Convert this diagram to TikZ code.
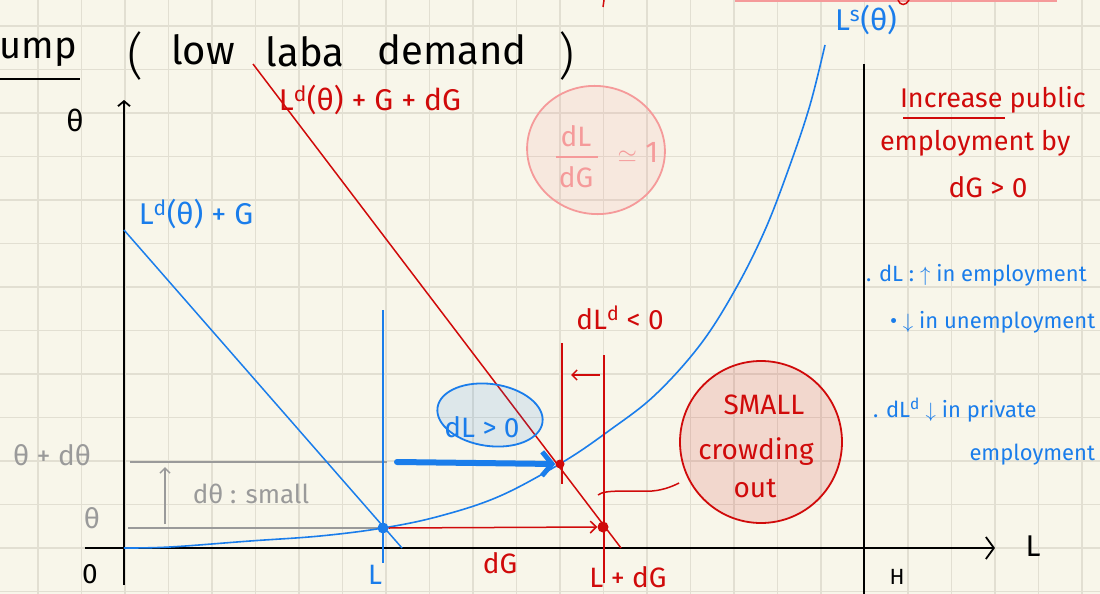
\documentclass[tikz,border=0pt]{standalone}
\usepackage{fontspec}
\setmainfont{Fira Sans}
\usetikzlibrary{arrows.meta}
\definecolor{bg}{HTML}{F8F6EA}
\definecolor{gridc}{HTML}{E2DFD2}
\definecolor{pblue}{HTML}{1A7DEB}
\definecolor{pred}{HTML}{D00A0A}
\definecolor{ppink}{HTML}{F59A9A}
\definecolor{pgray}{HTML}{9A9A9A}
\newcommand\hsz[1]{\fontsize{#1}{#1}\selectfont}
\tikzset{
  gridline/.style={gridc, line width=1.3pt},
  ink/.style={black, line width=1.8pt},
  bluel/.style={pblue, line width=1.5pt},
  redl/.style={pred, line width=1.5pt},
  grayl/.style={pgray, line width=2pt},
  txt/.style={inner sep=0pt, outer sep=0pt},
  dotc/.style={circle, inner sep=0pt, minimum size=11pt},
}
\begin{document}
\begin{tikzpicture}[x=1pt,y=-1pt]
\fill[bg] (0,0) rectangle (1100,594);
\useasboundingbox (0,0) rectangle (1100,594);
% grid
\foreach \k in {0,...,24} \draw[gridline] ({38+43.5*\k},0) -- ({38+43.5*\k},594);
\foreach \k in {-1,...,12} \draw[gridline] (0,{548-43.5*\k}) -- (1100,{548-43.5*\k});

% top cut-off marks
\draw[ppink, line width=2pt] (735,1) -- (1057,1);
\draw[pred, line width=1.5pt] (604,0) -- (603,7);
\draw[pred, line width=1.5pt] (898,0) .. controls (900,6) and (906,6) .. (909,0);

% title
\node[txt, font=\hsz{38}] (tump) at (38,52) {ump};
\draw[ink] (0,79) -- (80,79);
\node[txt, font=\hsz{50}\fontspec{Fira Sans Light}] (lpar) at (136,56) {(};
\node[txt, font=\hsz{40}] (tlow) at (203,50) {low};
\node[txt, font=\hsz{40}] (tlaba) at (305,52) {laba};
\node[txt, font=\hsz{40}] (tdem) at (452,50) {demand};
\node[txt, font=\hsz{50}\fontspec{Fira Sans Light}] (rpar) at (567,56) {)};

% coordinates
\coordinate (ytop) at (124,100);
\coordinate (ybot) at (124,585);
\coordinate (xleft) at (85,548);
\coordinate (xright) at (995,548);
\coordinate (Htop) at (864,64);
\coordinate (Hbot) at (864,594);
\coordinate (bd1) at (124,230);
\coordinate (bd2) at (402,548);
\coordinate (rd1) at (253,64);
\coordinate (rd2) at (621,548);
\coordinate (Lt) at (383,310);
\coordinate (Lb) at (383,563);
\coordinate (LGt) at (604,355);
\coordinate (LGb) at (604,583);
\coordinate (Dt) at (562,343);
\coordinate (Db) at (562,484);

% pink ellipse
\draw[ppink, line width=1.8pt, fill=ppink, fill opacity=0.15, rotate around={-8:(596,150)}] (596,150) ellipse [x radius=69pt, y radius=64pt];
\node[txt, ppink, font=\hsz{28}] (fdl) at (576,136) {dL};
\node[txt, ppink, font=\hsz{28}] (fdg) at (576,177) {dG};
\draw[ppink, line width=1.8pt] (556,157) -- (598,157);
\node[txt, ppink, font=\hsz{30}] (fap) at (638,152) {$\simeq$\;1};

% axes
\draw[ink, -{Straight Barb[length=5pt,width=12pt]}] (ybot) -- (ytop);
\draw[ink, -{Straight Barb[length=8pt,width=22pt]}] (xleft) -- (xright);
\draw[ink] (Htop) -- (Hbot);
\node[txt, font=\hsz{30}] (ylab) at (75,120) {θ};
\node[txt, font=\hsz{30}] (xlab) at (1033,546) {L};
\node[txt, font=\hsz{28}] (zero) at (90,574) {0};
\node[txt, font=\hsz{22}] (Hlab) at (897,577) {H};

% gray guides
\draw[grayl] (128,528) -- (383,528);
\draw[grayl] (130,462) -- (387,462);
\draw[pgray, line width=1.5pt, -{Straight Barb[length=5pt,width=10pt]}] (165,524) -- (165,467);
\node[txt, pgray, font=\hsz{28}] (tth) at (92,518) {θ};
\node[txt, pgray, font=\hsz{28}] (tthd) at (52,455) {θ + dθ};
\node[txt, pgray, font=\hsz{26}] (tsmall) at (251,494) {dθ : small};

% demand curves
\draw[bluel] (bd1) -- (bd2);
\node[txt, pblue, font=\hsz{30}] (bdlab) at (196,214) {L\textsuperscript{d}(θ) + G};
\draw[redl] (rd1) -- (rd2);
\node[txt, pred, font=\hsz{30}] (rdlab) at (370,100) {L\textsuperscript{d}(θ) + G + dG};

% supply curve
\draw[pblue, line width=1.6pt] plot[smooth, tension=0.6] coordinates {(124,548) (170,547) (250,541) (320,536) (383,528) (440,516) (500,496) (563,462) (610,430) (655,395) (700,345) (735,290) (765,230) (790,165) (810,105) (825,45)};
\node[txt, pblue, font=\hsz{30}] (lslab) at (866,20) {L\textsuperscript{s}(θ)};

% verticals
\draw[bluel] (Lt) -- (Lb);
\node[txt, pblue, font=\hsz{28}] (Llab) at (375,575) {L};
\draw[redl] (LGt) -- (LGb);
\node[txt, pred, font=\hsz{28}] (LGlab) at (628,577) {L + dG};
\draw[redl] (Dt) -- (Db);
\node[txt, pred, font=\hsz{28}] (dLdlab) at (620,318) {dL\textsuperscript{d} < 0};
\draw[pred, line width=1.5pt, -{Straight Barb[length=5pt,width=10pt]}] (600,375) -- (571,375);

% points
\node[dotc, fill=pblue] (E0) at (383,528) {};
\node[dotc, fill=pred] (E1) at (603,527) {};
\node[dotc, fill=pred, minimum size=9pt] (E2) at (560,464) {};
\draw[redl, -{Straight Barb[length=6pt,width=12pt]}] (E0.east) -- (E1.west);
\node[txt, pred, font=\hsz{28}] (dGlab) at (500,563) {dG};

% thick blue arrow
\draw[pblue, line width=6pt, line cap=round, -{Straight Barb[length=10pt,width=24pt,line width=5pt]}] (397,462) -- (E2.west);

% blue ellipse
\draw[pblue, line width=1.8pt, fill=pblue, fill opacity=0.12, rotate around={-8:(490,415)}] (490,415) ellipse [x radius=53pt, y radius=31pt];
\node[txt, pblue, font=\hsz{28}] (dLpos) at (482,427) {dL > 0};

% red circle
\node[circle, draw=pred, line width=1.8pt, fill=pred, fill opacity=0.13, minimum size=162pt, inner sep=0pt] (crowd) at (761,442) {};
\node[txt, pred, font=\hsz{28}] (tsm) at (764,405) {SMALL};
\node[txt, pred, font=\hsz{28}] (tcr) at (756,452) {crowding};
\node[txt, pred, font=\hsz{28}] (tout) at (755,488) {out};
\draw[redl] (598,495) .. controls (605,489) and (630,492) .. (652,491) .. controls (665,490) and (675,485) .. (crowd.west |- 0,483);

% right column notes
\node[txt, pred, font=\hsz{27}, anchor=west] (n1) at (900,100) {Increase public};
\draw[pred, line width=1.8pt] (903,118) -- (1005,118);
\node[txt, pred, font=\hsz{27}, anchor=west] (n2) at (880,143) {employment by};
\node[txt, pred, font=\hsz{28}] (n3) at (988,187) {dG > 0};
\node[txt, pblue, font=\hsz{22}, anchor=west] (n4) at (866,275) {. dL : $\uparrow$ in employment};
\node[txt, pblue, font=\hsz{22}, anchor=west] (n5) at (890,322) {\textbullet\ $\downarrow$ in unemployment};
\node[txt, pblue, font=\hsz{22}, anchor=west] (n6) at (873,410) {. dL\textsuperscript{d} $\downarrow$ in private};
\node[txt, pblue, font=\hsz{22}, anchor=east] (n7) at (1095,455) {employment};
\end{tikzpicture}
\end{document}
